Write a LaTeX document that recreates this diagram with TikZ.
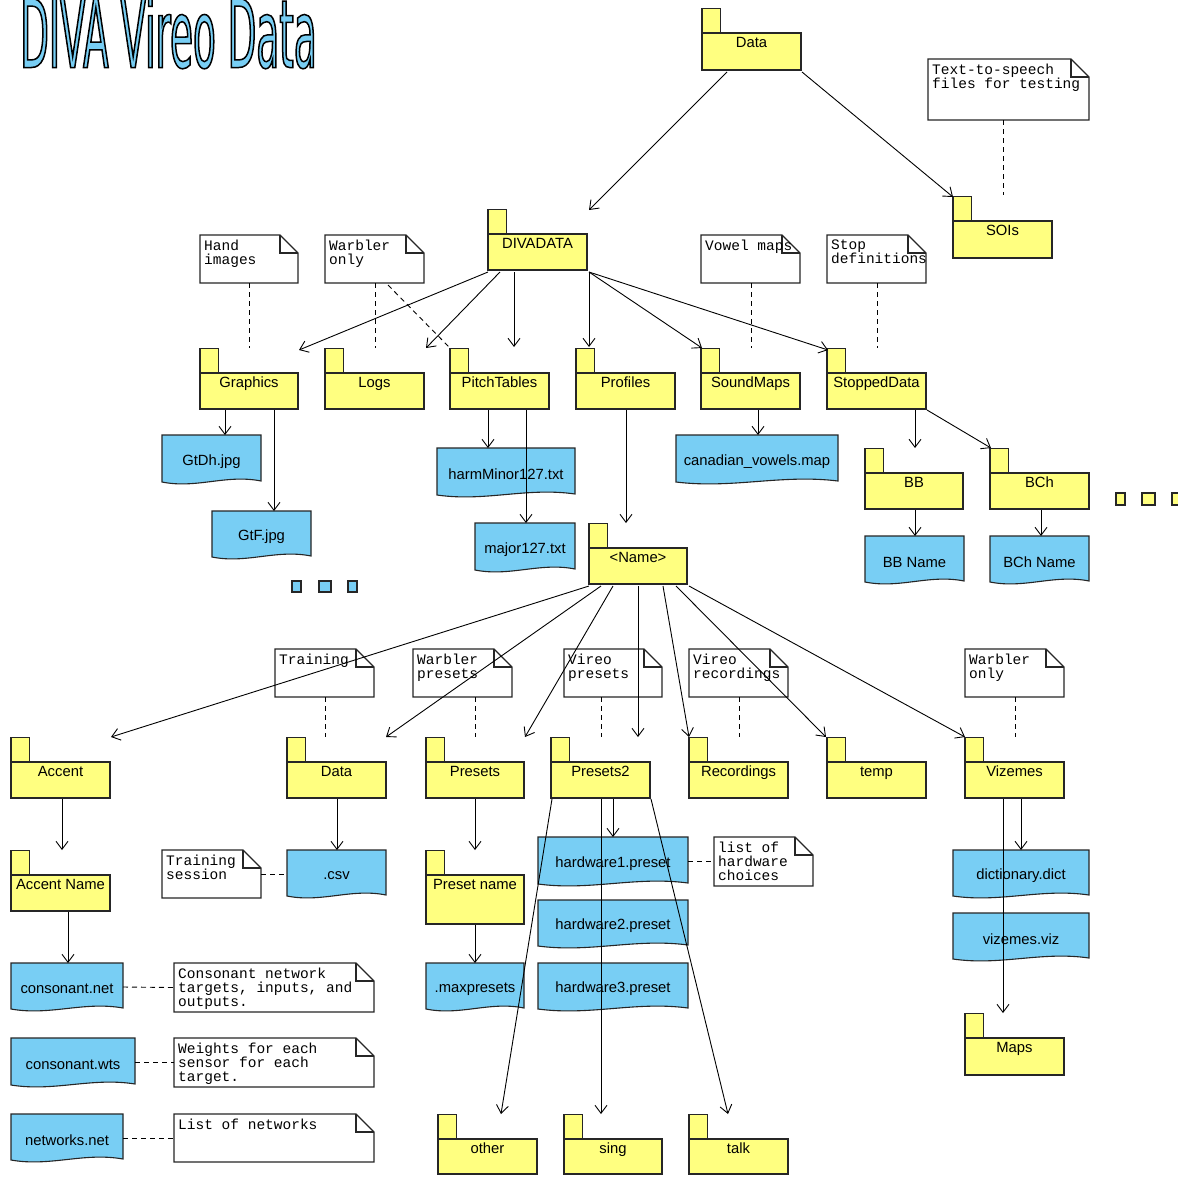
\documentclass[tikz,border=0pt]{standalone}
\usepackage{fontspec}
\setmainfont{Liberation Sans}
\newfontfamily\monof{Liberation Mono}
\newfontfamily\titlef[FakeStretch=0.394]{DejaVu Sans}
\usetikzlibrary{arrows.meta,calc}
\definecolor{fy}{RGB}{255,255,128}
\definecolor{fb}{RGB}{120,206,244}
\tikzset{
 shp/.style={draw=black!85, line width=1.1pt, line join=miter},
 fld/.style={shp, fill=fy},
 dcs/.style={shp, fill=fb},
 nts/.style={shp, fill=white},
 box/.style={inner sep=0pt, outer sep=0pt, draw=none},
 lbl/.style={font=\fontsize{14.8}{16}\selectfont, inner sep=0pt, text=black},
 ntxt/.style={font=\monof\fontsize{14.5}{14}\selectfont, inner sep=0pt, align=left, anchor=north west},
 arr/.style={draw=black, line width=0.9pt, -{Straight Barb[length=8pt,width=12pt,line width=0.9pt]}},
 dsh/.style={draw=black, line width=0.9pt, dash pattern=on 5pt off 4pt},
}
\newcommand\Fld[6]{%
 \draw[fld] (#2,#3-24.5) rectangle (#2+18.5,#3);
 \node[box, minimum width=#4-#2, minimum height=#5-#3, anchor=north west] (#1) at (#2,#3) {};
 \draw[fld] (#2,#3) rectangle (#4,#5);
 \node[lbl, anchor=base] (#1-l) at ({(#2+#4)/2},#3+14.5) {#6};}
\newcommand\Doc[6]{%
 \node[box, minimum width=#4-#2, minimum height=#5-#3, anchor=north west] (#1) at (#2,#3) {};
 \draw[dcs] (#2,#3) -- (#4,#3) -- (#4,#5-3) .. controls ({#2+0.65*(#4-#2)},#5-10) and ({#2+0.35*(#4-#2)},#5+5) .. (#2,#5-2) -- cycle;
 \node[lbl] (#1-l) at ({(#2+#4)/2},{(#3+#5)/2+2}) {#6};}
\newcommand\Note[6]{%
 \node[box, minimum width=#4-#2, minimum height=#5-#3, anchor=north west] (#1) at (#2,#3) {};
 \draw[nts] (#2,#3) -- (#4-18,#3) -- (#4,#3+18) -- (#4,#5) -- (#2,#5) -- cycle;
 \draw[shp] (#4-18,#3) -- (#4-18,#3+18) -- (#4,#3+18);
 \node[ntxt] (#1-l) at (#2+4,#3+5) {#6};}
\newcommand\Ttl{\textcolor{fb}{\special{pdf:literal direct q 0 0 0 RG 2 Tr 1.5 w}\titlef\fontsize{94.7}{95}\selectfont DIVA Vireo Data\special{pdf:literal direct Q}}}
\begin{document}
\begin{tikzpicture}[x=1pt,y=-1pt]
\useasboundingbox (0,0) rectangle (1178,1176);
\fill[white] (0,0) rectangle (1178,1176);
% title
\node[anchor=base west, inner sep=0pt] (title) at (20,67.5) {\Ttl};
% folders
\Fld{data}{702}{33}{801}{70}{Data}
\Fld{sois}{953}{221}{1052}{258}{SOIs}
\Fld{divadata}{488}{234}{587}{270}{DIVADATA}
\Fld{graphics}{200}{373}{298}{409}{Graphics}
\Fld{logs}{325}{373}{424}{409}{Logs}
\Fld{pitch}{450}{373}{549}{409}{PitchTables}
\Fld{profiles}{576}{373}{675}{409}{Profiles}
\Fld{soundmaps}{701}{373}{800}{409}{SoundMaps}
\Fld{stopped}{827}{373}{926}{409}{StoppedData}
\Fld{bb}{865}{473}{963}{509}{BB}
\Fld{bch}{990}{473}{1089}{509}{BCh}
\Fld{name}{589}{548}{687}{584}{\textless Name\textgreater}
\Fld{accent}{11}{762}{110}{798}{Accent}
\Fld{datab}{287}{762}{386}{798}{Data}
\Fld{presets}{426}{762}{524}{798}{Presets}
\Fld{presets2}{551}{762}{650}{798}{Presets2}
\Fld{recordings}{689}{762}{788}{798}{Recordings}
\Fld{temp}{827}{762}{926}{798}{temp}
\Fld{vizemes}{965}{762}{1064}{798}{Vizemes}
\Fld{accentname}{11}{875}{110}{911}{Accent Name}
\Fld{presetname}{426}{875}{524}{924}{Preset name}
\Fld{maps}{965}{1038}{1064}{1075}{Maps}
\Fld{other}{438}{1139}{537}{1174}{other}
\Fld{sing}{564}{1139}{662}{1174}{sing}
\Fld{talk}{689}{1139}{788}{1174}{talk}
% documents
\Doc{gtdh}{162}{435}{261}{484}{GtDh.jpg}
\Doc{gtf}{212}{511}{311}{559}{GtF.jpg}
\Doc{harm}{437}{448}{575}{497}{harmMinor127.txt}
\Doc{major}{475}{523}{575}{572}{major127.txt}
\Doc{canad}{676}{435}{838}{484}{canadian\_vowels.map}
\Doc{bbname}{865}{536}{964}{584}{BB Name}
\Doc{bchname}{990}{536}{1089}{584}{BCh Name}
\Doc{csv}{287}{850}{386}{898}{.csv}
\Doc{maxp}{426}{963}{524}{1011}{.maxpresets}
\Doc{hw1}{538}{837}{688}{886}{hardware1.preset}
\Doc{hw2}{538}{900}{688}{948}{hardware2.preset}
\Doc{hw3}{538}{963}{688}{1011}{hardware3.preset}
\Doc{dict}{953}{850}{1089}{898}{dictionary.dict}
\Doc{viz}{953}{913}{1089}{961}{vizemes.viz}
\Doc{cnet}{11}{963}{123}{1011}{consonant.net}
\Doc{cwts}{11}{1038}{135}{1087}{consonant.wts}
\Doc{nnet}{11}{1114}{123}{1162}{networks.net}
% notes
\Note{n1}{928}{59}{1089}{120}{Text-to-speech\\files for testing}
\Note{n2}{200}{235}{298}{283}{Hand\\images}
\Note{n3}{325}{235}{424}{283}{Warbler\\only}
\Note{n4}{701}{235}{800}{283}{Vowel maps}
\Note{n5}{827}{235}{926}{283}{Stop\\definitions}
\Note{n6}{275}{649}{374}{697}{Training}
\Note{n7}{413}{649}{512}{697}{Warbler\\presets}
\Note{n8}{564}{649}{662}{697}{Vireo\\presets}
\Note{n9}{689}{649}{788}{697}{Vireo\\recordings}
\Note{n10}{965}{649}{1064}{697}{Warbler\\only}
\Note{n11}{162}{850}{261}{898}{Training\\session}
\Note{n12}{714}{837}{813}{886}{list of\\hardware\\choices}
\Note{n13}{174}{963}{374}{1012}{Consonant network\\targets, inputs, and\\outputs.}
\Note{n14}{174}{1038}{374}{1087}{Weights for each\\sensor for each\\target.}
\Note{n15}{174}{1114}{374}{1162}{List of networks}
% ellipsis markers
\draw[dcs] (292,581) rectangle (301,592);
\draw[dcs] (319,581) rectangle (331,592);
\draw[dcs] (348,581) rectangle (357,592);
\draw[fld] (1116,493) rectangle (1125,505);
\draw[fld] (1142,493) rectangle (1155,505);
\draw[fld] (1172,493) rectangle (1182,505);
% arrows
\draw[arr] ($(data.south west)+(25,2)$) -- ($(divadata.north east)+(2,-24)$);
\draw[arr] ($(data.south east)+(1,2)$) -- ($(sois.north west)+(0,-24)$);
\draw[arr] ($(divadata.south west)+(0,2)$) -- ($(graphics.north east)+(1,-23)$);
\draw[arr] ($(divadata.south west)+(12,2)$) -- ($(logs.north east)+(2,-25)$);
\draw[arr] ($(divadata.south west)+(26,2)$) -- ($(pitch.north west)+(64,-26)$);
\draw[arr] ($(divadata.south east)+(2,2)$) -- ($(profiles.north west)+(13,-26)$);
\draw[arr] ($(divadata.south east)+(2,2)$) -- ($(soundmaps.north west)+(1,-25)$);
\draw[arr] ($(divadata.south east)+(2,2)$) -- ($(stopped.north west)+(1,-23)$);
\draw[arr] ($(graphics.south west)+(25,1)$) -- ($(gtdh.north west)+(63,0)$);
\draw[arr] ($(graphics.south west)+(74,1)$) -- ($(gtf.north west)+(62,0)$);
\draw[arr] ($(pitch.south west)+(38,1)$) -- ($(harm.north west)+(51,0)$);
\draw[arr] ($(pitch.south west)+(76,1)$) -- ($(major.north west)+(51,0)$);
\draw[arr] ($(profiles.south west)+(50,1)$) -- ($(name.north west)+(37,-25)$);
\draw[arr] ($(soundmaps.south west)+(57,1)$) -- ($(canad.north west)+(82,0)$);
\draw[arr] ($(stopped.south west)+(88,1)$) -- ($(bb.north west)+(50,-25)$);
\draw[arr] ($(stopped.south east)+(1,1)$) -- ($(bch.north west)+(1,-25)$);
\draw[arr] ($(bb.south west)+(50,1)$) -- ($(bbname.north west)+(50,0)$);
\draw[arr] ($(bch.south west)+(51,1)$) -- ($(bchname.north west)+(51,0)$);
\draw[arr] ($(name.south west)+(0,2)$) -- ($(accent.north east)+(1,-25)$);
\draw[arr] ($(name.south west)+(12,2)$) -- ($(datab.north east)+(0,-25)$);
\draw[arr] ($(name.south west)+(24,2)$) -- ($(presets.north east)+(1,-25)$);
\draw[arr] ($(name.south west)+(49,2)$) -- ($(presets2.north west)+(87,-25)$);
\draw[arr] ($(name.south west)+(74,2)$) -- ($(recordings.north west)+(0,-25)$);
\draw[arr] ($(name.south west)+(87,2)$) -- ($(temp.north west)+(-1,-25)$);
\draw[arr] ($(name.south east)+(2,2)$) -- ($(vizemes.north west)+(0,-25)$);
\draw[arr] ($(accent.south west)+(51,1)$) -- ($(accentname.north west)+(51,-25)$);
\draw[arr] ($(datab.south west)+(50,1)$) -- ($(csv.north west)+(50,0)$);
\draw[arr] ($(presets.south west)+(49,1)$) -- ($(presetname.north west)+(49,-25)$);
\draw[arr] ($(presetname.south west)+(49,1)$) -- ($(maxp.north west)+(49,0)$);
\draw[arr] ($(presets2.south west)+(62,1)$) -- ($(hw1.north west)+(75,0)$);
\draw[arr] ($(presets2.south west)+(1,1)$) -- ($(other.north west)+(63,-25)$);
\draw[arr] ($(presets2.south west)+(50,1)$) -- ($(sing.north west)+(37,-25)$);
\draw[arr] ($(presets2.south east)+(1,1)$) -- ($(talk.north west)+(39,-25)$);
\draw[arr] ($(vizemes.south west)+(56,1)$) -- ($(dict.north west)+(68,0)$);
\draw[arr] ($(vizemes.south west)+(38,1)$) -- ($(maps.north west)+(38,-25)$);
\draw[arr] ($(accentname.south west)+(57,1)$) -- ($(cnet.north west)+(57,0)$);
% dashed annotations
\draw[dsh] ($(n1.south west)+(75,0)$) -- ($(sois.north west)+(50,-26)$);
\draw[dsh] (n2.south) -- ($(graphics.north west)+(49,-25)$);
\draw[dsh] ($(n3.south west)+(50,0)$) -- ($(logs.north west)+(50,-25)$);
\draw[dsh] ($(n3.south west)+(63,2)$) -- ($(pitch.north west)+(-1,-26)$);
\draw[dsh] ($(n4.south west)+(50,0)$) -- ($(soundmaps.north west)+(50,-25)$);
\draw[dsh] ($(n5.south west)+(50,0)$) -- ($(stopped.north west)+(50,-25)$);
\draw[dsh] ($(n6.south west)+(50,0)$) -- ($(datab.north west)+(38,-25)$);
\draw[dsh] ($(n7.south west)+(62,0)$) -- ($(presets.north west)+(49,-25)$);
\draw[dsh] ($(n8.south west)+(37,0)$) -- ($(presets2.north west)+(50,-25)$);
\draw[dsh] ($(n9.south west)+(50,0)$) -- ($(recordings.north west)+(50,-25)$);
\draw[dsh] ($(n10.south west)+(50,0)$) -- ($(vizemes.north west)+(50,-25)$);
\draw[dsh] (n11.east) -- (csv.west);
\draw[dsh] (hw1.east) -- (n12.west);
\draw[dsh] (cnet.east) -- (n13.west);
\draw[dsh] (cwts.east) -- (n14.west);
\draw[dsh] (nnet.east) -- (n15.west);
\end{tikzpicture}
\end{document}
